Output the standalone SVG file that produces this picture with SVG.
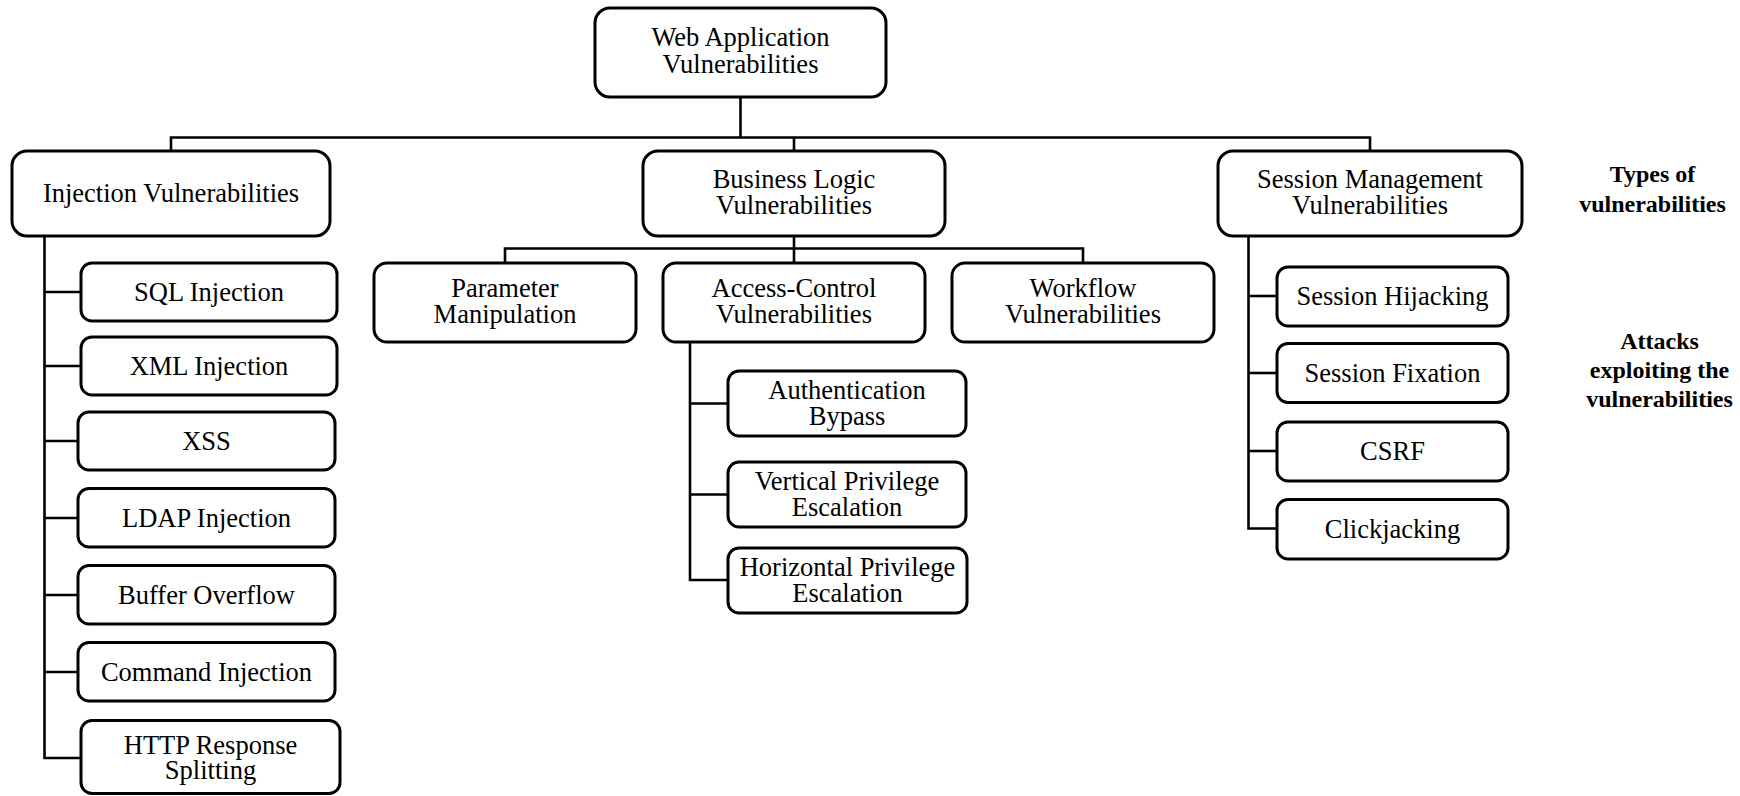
<svg xmlns="http://www.w3.org/2000/svg" width="1740" height="796" viewBox="0 0 1740 796">
  <style>
    .box { fill: #ffffff; stroke: #000000; stroke-width: 3; }
    .lbl { font-family: "Liberation Serif", "Times New Roman", serif; font-size: 26.5px; fill: #000000; text-anchor: middle; }
    .note { font-family: "Liberation Serif", "Times New Roman", serif; font-size: 24px; font-weight: bold; fill: #000000; text-anchor: middle; }
    .wire { fill: none; stroke: #000000; stroke-width: 2.6; stroke-linejoin: miter; }
  </style>

  <rect width="1740" height="796" fill="#ffffff"/>

  <!-- connectors -->
  <g id="connectors" class="wire">
    <!-- root to categories -->
    <path d="M740.5 97 V137.5"/>
    <path d="M171 151 V137.5 H1370 V151"/>
    <path d="M794 137.5 V151"/>
    <!-- injection attacks -->
    <path d="M44.5 236 V758 H81"/>
    <path d="M44.5 292 H81"/>
    <path d="M44.5 366 H81"/>
    <path d="M44.5 441 H78"/>
    <path d="M44.5 518 H78"/>
    <path d="M44.5 595 H78"/>
    <path d="M44.5 672 H78"/>
    <!-- business logic subtypes -->
    <path d="M794 236 V263"/>
    <path d="M505 263 V248.5 H1083 V263"/>
    <!-- access-control attacks -->
    <path d="M690 342 V580 H728"/>
    <path d="M690 403.5 H728"/>
    <path d="M690 494.5 H728"/>
    <!-- session attacks -->
    <path d="M1248.5 236 V528.5 H1277"/>
    <path d="M1248.5 296 H1277"/>
    <path d="M1248.5 373 H1277"/>
    <path d="M1248.5 451 H1277"/>
  </g>

  <!-- root -->
  <g id="root">
    <rect class="box" x="595" y="8" width="291" height="89" rx="15"/>
    <text class="lbl" x="740.5" y="46">Web Application</text>
    <text class="lbl" x="740.5" y="73">Vulnerabilities</text>
  </g>

  <!-- categories -->
  <g id="injection">
    <rect class="box" x="12" y="151" width="318" height="85" rx="15"/>
    <text class="lbl" x="171" y="202">Injection Vulnerabilities</text>
  </g>
  <g id="business-logic">
    <rect class="box" x="643" y="151" width="302" height="85" rx="15"/>
    <text class="lbl" x="794" y="187.5">Business Logic</text>
    <text class="lbl" x="794" y="214">Vulnerabilities</text>
  </g>
  <g id="session-management">
    <rect class="box" x="1218" y="151" width="304" height="85" rx="15"/>
    <text class="lbl" x="1370" y="187.5">Session Management</text>
    <text class="lbl" x="1370" y="214">Vulnerabilities</text>
  </g>

  <!-- injection attacks -->
  <g id="sql-injection">
    <rect class="box" x="81" y="263" width="256" height="58" rx="11"/>
    <text class="lbl" x="209" y="300.5">SQL Injection</text>
  </g>
  <g id="xml-injection">
    <rect class="box" x="81" y="337" width="256" height="58" rx="11"/>
    <text class="lbl" x="209" y="374.5">XML Injection</text>
  </g>
  <g id="xss">
    <rect class="box" x="78" y="412" width="257" height="58" rx="11"/>
    <text class="lbl" x="206.5" y="449.5">XSS</text>
  </g>
  <g id="ldap-injection">
    <rect class="box" x="78" y="488.5" width="257" height="58.5" rx="11"/>
    <text class="lbl" x="206.5" y="526.5">LDAP Injection</text>
  </g>
  <g id="buffer-overflow">
    <rect class="box" x="78" y="565.5" width="257" height="58.5" rx="11"/>
    <text class="lbl" x="206.5" y="603.5">Buffer Overflow</text>
  </g>
  <g id="command-injection">
    <rect class="box" x="78" y="642.5" width="257" height="58.5" rx="11"/>
    <text class="lbl" x="206.5" y="680.5">Command Injection</text>
  </g>
  <g id="http-response-splitting">
    <rect class="box" x="81" y="720.5" width="259" height="73" rx="11"/>
    <text class="lbl" x="210.5" y="753.5">HTTP Response</text>
    <text class="lbl" x="210.5" y="779">Splitting</text>
  </g>

  <!-- business logic subtypes -->
  <g id="parameter-manipulation">
    <rect class="box" x="374" y="263" width="262" height="79" rx="13"/>
    <text class="lbl" x="505" y="297">Parameter</text>
    <text class="lbl" x="505" y="323">Manipulation</text>
  </g>
  <g id="access-control">
    <rect class="box" x="663" y="263" width="262" height="79" rx="13"/>
    <text class="lbl" x="794" y="297">Access-Control</text>
    <text class="lbl" x="794" y="323">Vulnerabilities</text>
  </g>
  <g id="workflow">
    <rect class="box" x="952" y="263" width="262" height="79" rx="13"/>
    <text class="lbl" x="1083" y="297">Workflow</text>
    <text class="lbl" x="1083" y="323">Vulnerabilities</text>
  </g>

  <!-- access-control attacks -->
  <g id="authentication-bypass">
    <rect class="box" x="728" y="371" width="238" height="65" rx="11"/>
    <text class="lbl" x="847" y="398.5">Authentication</text>
    <text class="lbl" x="847" y="424.5">Bypass</text>
  </g>
  <g id="vertical-privilege-escalation">
    <rect class="box" x="728" y="462" width="238" height="65" rx="11"/>
    <text class="lbl" x="847" y="489.5">Vertical Privilege</text>
    <text class="lbl" x="847" y="515.5">Escalation</text>
  </g>
  <g id="horizontal-privilege-escalation">
    <rect class="box" x="728" y="548" width="239" height="65" rx="11"/>
    <text class="lbl" x="847.5" y="575.5">Horizontal Privilege</text>
    <text class="lbl" x="847.5" y="601.5">Escalation</text>
  </g>

  <!-- session attacks -->
  <g id="session-hijacking">
    <rect class="box" x="1277" y="267" width="231" height="59" rx="11"/>
    <text class="lbl" x="1392.5" y="305">Session Hijacking</text>
  </g>
  <g id="session-fixation">
    <rect class="box" x="1277" y="343.5" width="231" height="59" rx="11"/>
    <text class="lbl" x="1392.5" y="381.5">Session Fixation</text>
  </g>
  <g id="csrf">
    <rect class="box" x="1277" y="422" width="231" height="59" rx="11"/>
    <text class="lbl" x="1392.5" y="460">CSRF</text>
  </g>
  <g id="clickjacking">
    <rect class="box" x="1277" y="499.5" width="231" height="59.5" rx="11"/>
    <text class="lbl" x="1392.5" y="537.5">Clickjacking</text>
  </g>

  <!-- level captions -->
  <g id="caption-types">
    <text class="note" x="1652.5" y="182">Types of</text>
    <text class="note" x="1652.5" y="211.5">vulnerabilities</text>
  </g>
  <g id="caption-attacks">
    <text class="note" x="1659.5" y="349">Attacks</text>
    <text class="note" x="1659.5" y="378">exploiting the</text>
    <text class="note" x="1659.5" y="407">vulnerabilities</text>
  </g>
</svg>
